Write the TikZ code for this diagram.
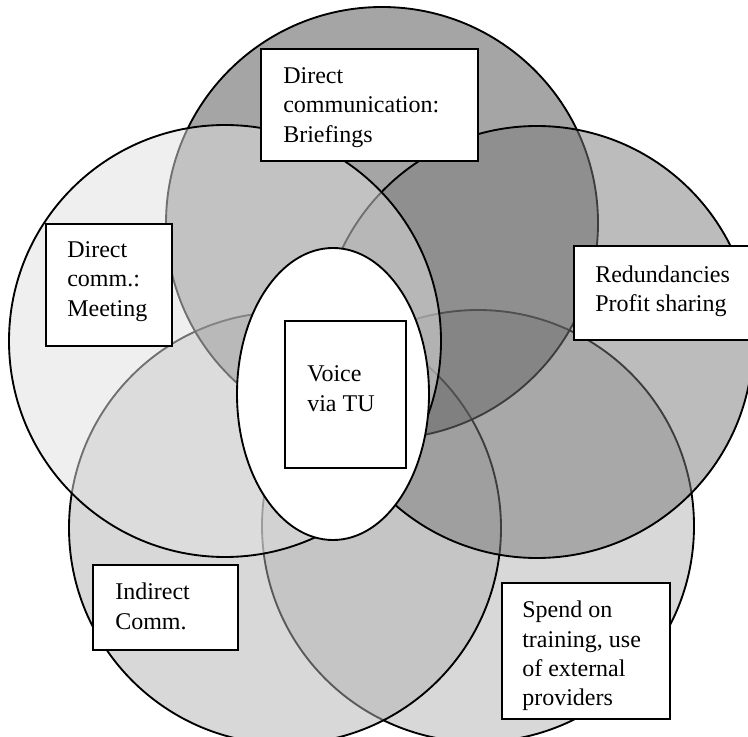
\documentclass[tikz,border=0pt]{standalone}
\usepackage{fontspec}
\setmainfont{Liberation Serif}
\usepackage{xcolor}
\colorlet{topgray}{black!70}
\colorlet{leftgray}{black!12}
\colorlet{rightgray}{black!52}
\colorlet{lowgray}{black!30}
\tikzset{
    venn/.style={draw=black, line width=1.4pt, fill opacity=0.5},
    box/.style={draw=black, line width=1.4pt, fill=white},
    lbl/.style={anchor=base west, inner sep=0pt, align=left, font=\fontsize{18}{22}\selectfont}
}
\begin{document}
\begin{tikzpicture}[x=0.75pt, y=-0.75pt]
            \useasboundingbox (0,0) rectangle (748,737);
            \coordinate (T) at (382,223);
            \coordinate (L) at (225,341);
            \coordinate (R) at (537,342);
            \coordinate (BL) at (285,528);
            \coordinate (BR) at (478,526);
            \coordinate (V) at (333,394);
            \filldraw[venn, fill=lowgray] (BR) circle [radius=216];
            \filldraw[venn, fill=lowgray] (BL) circle [radius=216];
            \filldraw[venn, fill=topgray] (T) circle [radius=216];
            \filldraw[venn, fill=rightgray] (R) circle [radius=216];
            \filldraw[venn, fill=leftgray] (L) circle [radius=216];
            \filldraw[box] (V) ellipse [x radius=96, y radius=146];
            \draw[box] (285,321) rectangle (406,468);
            \draw[box] (261,49) rectangle (478,161);
            \draw[box] (46,224) rectangle (172,346);
            \draw[box] (574,246) rectangle (750,340);
            \draw[box] (93,565) rectangle (238,650);
            \draw[box] (502,583) rectangle (670,719);
            \node[lbl] (voice) at (307,411) {Voice\\via TU};
            \node[lbl] (briefings) at (283,142.2) {Direct\\communication:\\Briefings};
            \node[lbl] (meeting) at (67,316.3) {Direct\\comm.:\\Meeting};
            \node[lbl] (redundancies) at (595,311.7) {Redundancies\\Profit sharing};
            \node[lbl] (indirect) at (115,629) {Indirect\\Comm.};
            \node[lbl] (training) at (522,705.8) {Spend on\\training, use\\of external\\providers};
\end{tikzpicture}
\end{document}
